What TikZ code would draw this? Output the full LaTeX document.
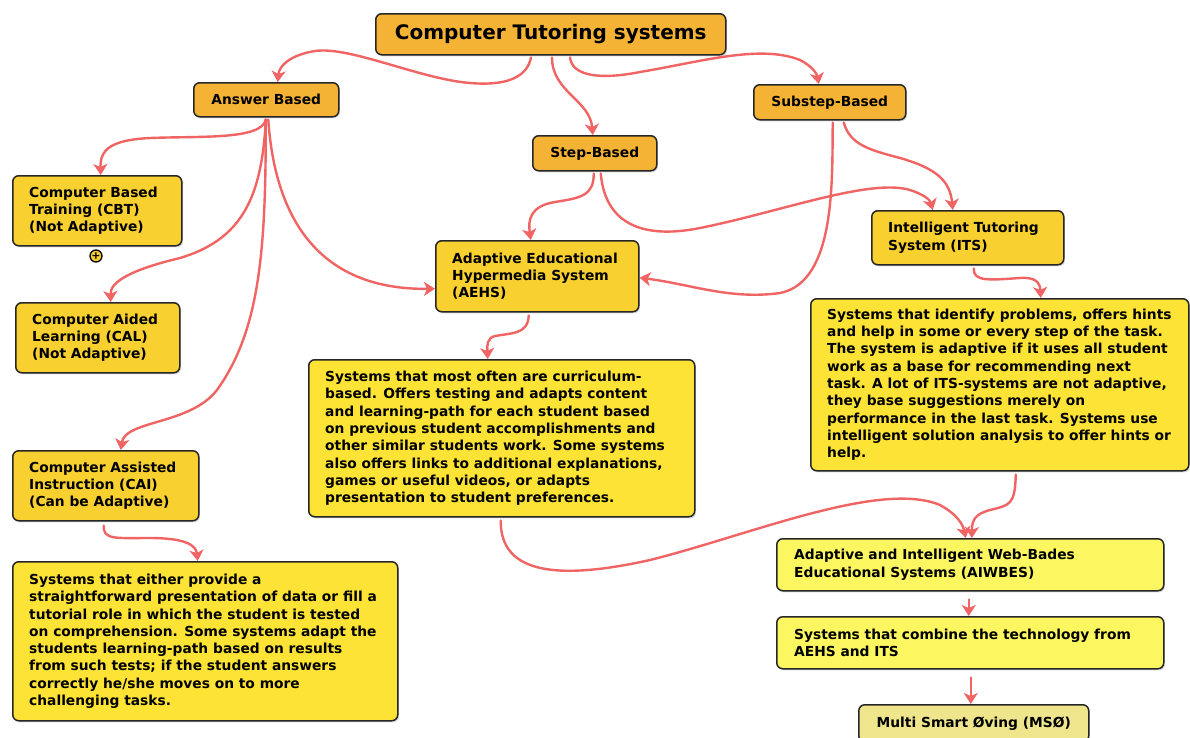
\documentclass[tikz,border=0pt]{standalone}
\usepackage{fontspec}
\setmainfont{DejaVu Sans}
\usetikzlibrary{arrows.meta,shadows,calc}
\definecolor{orangebox}{HTML}{F5B335}
\definecolor{midbox}{HTML}{F8D030}
\definecolor{descbox}{HTML}{FDE335}
\definecolor{lightbox}{HTML}{FCF660}
\definecolor{msobox}{HTML}{EEE58C}
\definecolor{connred}{HTML}{F06464}
\tikzset{
  box/.style={draw=black!85, line width=1.5pt, rounded corners=6pt,
    drop shadow={shadow xshift=1.2pt, shadow yshift=-1.6pt, opacity=0.3},
    inner sep=0pt, anchor=north west, font=\bfseries\fontsize{13.8}{17.3}\selectfont},
  txt/.style={inner sep=0pt, align=left, anchor=west, font=\bfseries\fontsize{13.8}{17.3}\selectfont},
  conn/.style={draw=connred, line width=2.4pt, line cap=round,
    -{Stealth[length=11pt,width=14pt,inset=3pt]}},
}
\begin{document}
\begin{tikzpicture}[x=1pt,y=-1pt]
\useasboundingbox[fill=white] (0,0) rectangle (1190,737);

% boxes
\node[box, fill=orangebox, minimum width=350pt, minimum height=41pt,
  font=\bfseries\fontsize{20}{24}\selectfont] (title) at (375,13) {Computer Tutoring systems};
\node[box, fill=orangebox, minimum width=145pt, minimum height=34pt] (ans) at (193,82) {Answer Based};
\node[box, fill=orangebox, minimum width=152pt, minimum height=35pt] (sub) at (753,84) {Substep-Based};
\node[box, fill=orangebox, minimum width=124pt, minimum height=35pt] (step) at (532,135) {Step-Based};

\node[box, fill=midbox, minimum width=169pt, minimum height=70pt] (cbt) at (12,175) {};
\node[txt] (cbtt) at ([xshift=17pt]cbt.west) {Computer Based\\Training (CBT)\\(Not Adaptive)};
\node[circle, draw=black, line width=1.3pt, fill=midbox, minimum size=12pt, inner sep=0pt,
  font=\bfseries\fontsize{11}{11}\selectfont] (cbtplus) at (96,256) {+};

\node[box, fill=midbox, minimum width=164pt, minimum height=70pt] (cal) at (15,302) {};
\node[txt] (calt) at ([xshift=17pt]cal.west) {Computer Aided\\Learning (CAL)\\(Not Adaptive)};

\node[box, fill=midbox, minimum width=203pt, minimum height=71pt] (aehs) at (435,240) {};
\node[txt] (aehst) at ([xshift=17pt]aehs.west) {Adaptive Educational\\Hypermedia System\\(AEHS)};

\node[box, fill=midbox, minimum width=192pt, minimum height=54pt] (its) at (871,210) {};
\node[txt] (itst) at ([xshift=17pt]its.west) {Intelligent Tutoring\\System (ITS)};

\node[box, fill=descbox, minimum width=378pt, minimum height=172pt] (itsd) at (810,298) {};
\node[txt] (itsdt) at ([xshift=17pt]itsd.west) {Systems that identify problems, offers hints\\and help in some or every step of the task.\\The system is adaptive if it uses all student\\work as a base for recommending next\\task. A lot of ITS-systems are not adaptive,\\they base suggestions merely on\\performance in the last task. Systems use\\intelligent solution analysis to offer hints or\\help.};

\node[box, fill=descbox, minimum width=386pt, minimum height=157pt] (aehsd) at (308,359) {};
\node[txt] (aehsdt) at ([xshift=17pt]aehsd.west) {Systems that most often are curriculum-\\based. Offers testing and adapts content\\and learning-path for each student based\\on previous student accomplishments and\\other similar students work. Some systems\\also offers links to additional explanations,\\games or useful videos, or adapts\\presentation to student preferences.};

\node[box, fill=midbox, minimum width=186pt, minimum height=70pt] (cai) at (12,450) {};
\node[txt] (cait) at ([xshift=17pt]cai.west) {Computer Assisted\\Instruction (CAI)\\(Can be Adaptive)};

\node[box, fill=descbox, minimum width=385pt, minimum height=159pt] (caid) at (12,561) {};
\node[txt] (caidt) at ([xshift=17pt]caid.west) {Systems that either provide a\\straightforward presentation of data or fill a\\tutorial role in which the student is tested\\on comprehension. Some systems adapt the\\students learning-path based on results\\from such tests; if the student answers\\correctly he/she moves on to more\\challenging tasks.};

\node[box, fill=lightbox, minimum width=387pt, minimum height=52pt] (aiw) at (776,538) {};
\node[txt] (aiwt) at ([xshift=18pt]aiw.west) {Adaptive and Intelligent Web-Bades\\Educational Systems (AIWBES)};

\node[box, fill=lightbox, minimum width=387pt, minimum height=52pt] (comb) at (776,616) {};
\node[txt] (combt) at ([xshift=18pt]comb.west) {Systems that combine the technology from\\AEHS and ITS};

\node[box, fill=msobox, minimum width=230pt, minimum height=37pt] (mso) at (858,704) {Multi Smart Øving (MSØ)};

% connectors
\draw[conn] ([xshift=156pt,yshift=-2pt]title.south west) .. controls (527,78) and (505,86) .. (470,83)
  .. controls (420,79) and (350,46) .. (315,51) .. controls (290,55) and (279,66) .. ([xshift=11.5pt]ans.north);
\draw[conn] ([xshift=177pt,yshift=-2pt]title.south west) .. controls (552,92) and (590,100) .. ([xshift=-2pt]step.north);
\draw[conn] ([xshift=195pt,yshift=-2pt]title.south west) .. controls (572,76) and (600,80) .. (640,72)
  .. controls (700,62) and (760,44) .. (800,60) .. controls (812,66) and (817,74) .. ([xshift=-11pt]sub.north);

\draw[conn] ([xshift=-1pt,yshift=-2pt]step.south) .. controls (594,196) and (580,198) .. (555,202)
  .. controls (530,206) and (528,220) .. ([xshift=-6.5pt]aehs.north);
\draw[conn] ([xshift=6pt,yshift=-2pt]step.south) .. controls (605,222) and (640,240) .. (700,228)
  .. controls (780,212) and (870,178) .. (910,190) .. controls (925,195) and (930,200) .. ([xshift=-35pt]its.north);

\draw[conn] ([xshift=3pt,yshift=-2pt]sub.south) .. controls (832,180) and (836,282) .. (780,293)
  .. controls (730,300) and (690,284) .. ([yshift=-1.5pt]aehs.east);
\draw[conn] ([xshift=14pt,yshift=-2pt]sub.south) .. controls (850,145) and (870,150) .. (900,158)
  .. controls (935,168) and (950,180) .. ([xshift=-15pt]its.north);

\draw[conn] ([xshift=-0.5pt,yshift=-2pt]ans.south) .. controls (262,140) and (200,136) .. (150,138)
  .. controls (110,140) and (100,150) .. ([xshift=3.5pt]cbt.north);
\draw[conn] ([xshift=-0.5pt,yshift=-2pt]ans.south) .. controls (262,200) and (240,240) .. (180,258)
  .. controls (130,270) and (110,282) .. ([xshift=13pt]cal.north);
\draw[conn] ([xshift=-0.5pt,yshift=-2pt]ans.south) .. controls (266,250) and (260,330) .. (217,390)
  .. controls (190,425) and (125,420) .. ([xshift=15pt]cai.north);
\draw[conn] ([xshift=2pt,yshift=-2pt]ans.south) .. controls (275,220) and (320,290) .. ([yshift=-12.5pt]aehs.west);

\draw[conn] ([xshift=-2pt,yshift=-4pt]cai.south) .. controls (103,540) and (115,538) .. (150,538)
  .. controls (185,538) and (196,545) .. ([xshift=-7.5pt]caid.north);

\draw[conn] ([xshift=-8.5pt,yshift=-3pt]aehs.south) .. controls (528,335) and (510,333) .. (495,336)
  .. controls (487,338) and (487,345) .. ([xshift=-14pt]aehsd.north);
\draw[conn] ([xshift=6pt,yshift=-3pt]its.south) .. controls (973,282) and (990,280) .. (1020,278)
  .. controls (1035,277) and (1040,282) .. ([xshift=41pt]itsd.north);
\draw[conn] ([xshift=-1pt,yshift=-3pt]aehsd.south) .. controls (500,575) and (560,580) .. (650,560)
  .. controls (750,535) and (880,480) .. (940,505) .. controls (958,515) and (963,525) .. ([xshift=-4.5pt]aiw.north);
\draw[conn] ([xshift=16pt,yshift=-3pt]itsd.south) .. controls (1015,505) and (1010,505) .. (990,510)
  .. controls (975,514) and (972,520) .. ([xshift=1.5pt]aiw.north);
\draw[conn] ([xshift=-1.5pt,yshift=-8pt]aiw.south) -- ([xshift=-1.5pt]comb.north);
\draw[conn] ([xshift=0.5pt,yshift=-8pt]comb.south) -- ([xshift=0.5pt]comb.south |- mso.north);
\end{tikzpicture}
\end{document}
